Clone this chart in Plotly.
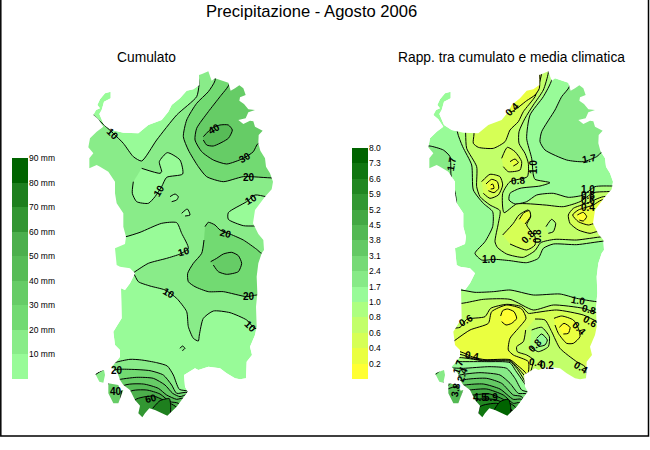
"""
Precipitazione - Agosto 2006: isoline maps of Sardinia, cumulated rain and ratio to climate.
Isolines are read off the picture, in a local map frame (x 0-660, y 0-1110 downwards).
"""
import plotly.graph_objects as go

W, H = 650, 450
FONT = "Liberation Sans"

# Band colours, low to high
CUM_COLORS = ["#98FB98", "#89EC89", "#72DA72", "#66CC66", "#57BC57", "#4CAF4C", "#329632", "#1E7F1E", "#006400"]
RATIO_COLORS = ["#FFFF33", "#EAFF40", "#D6FF55", "#C2FF6A", "#ADFF80",
                "#98FB98", "#87EA87", "#76DA76", "#64C964", "#53B953",
                "#43A843", "#329832", "#218721", "#107610", "#006400"]

CUM_TICKS = ["10 mm", "20 mm", "30 mm", "40 mm", "50 mm", "60 mm", "70 mm", "80 mm", "90 mm"]
RATIO_TICKS = ["0.2", "0.4", "0.6", "0.8", "1.0", "1.7", "2.4", "3.1", "3.8", "4.5", "5.2", "5.9", "6.6", "7.3", "8.0"]

# Coast outline
COAST_MAIN = [(357, 45), (366, 42), (385, 34), (390, 48), (395, 62), (405, 55), (420, 60), (445, 68), (452, 92),
              (465, 85), (478, 76), (490, 85), (497, 105), (480, 112), (478, 122), (492, 132), (505, 148), (525, 150),
              (505, 157), (497, 175), (475, 180), (490, 192), (510, 182), (520, 184), (525, 200), (548, 212), (536, 225),
              (535, 250), (541, 272), (555, 295), (558, 320), (570, 340), (579, 365), (575, 388), (555, 410), (540, 430),
              (525, 450), (519, 490), (535, 522), (550, 540), (552, 570), (545, 580), (535, 610), (530, 650), (532, 700),
              (528, 740), (530, 800), (525, 825), (510, 860), (516, 885), (500, 905), (498, 955), (480, 958), (465, 955),
              (440, 940), (420, 925), (385, 920), (355, 930), (345, 925), (312, 945), (315, 980), (323, 995), (305, 1020),
              (290, 1040), (262, 1067), (225, 1050), (208, 1045), (195, 1060), (187, 1072), (175, 1060), (180, 1037),
              (165, 1020), (150, 990), (130, 975), (120, 960), (113, 940), (95, 920), (105, 910), (120, 890), (120, 870),
              (105, 855), (100, 815), (125, 775), (123, 685), (135, 690), (150, 670), (165, 640), (150, 625), (120, 620),
              (110, 615), (105, 565), (135, 552), (138, 530), (130, 500), (130, 460), (110, 430), (105, 400), (105, 365),
              (85, 335), (60, 320), (50, 315), (28, 325), (28, 295), (40, 280), (25, 262), (30, 235), (50, 215), (70, 200),
              (55, 178), (40, 165), (48, 150), (60, 145), (52, 135), (60, 118), (75, 100), (92, 95), (92, 115), (72, 125),
              (65, 150), (58, 162), (72, 195), (95, 210), (130, 218), (175, 220), (205, 195), (245, 180), (265, 155),
              (275, 135), (300, 115), (320, 92), (340, 88), (358, 75)]
COAST_SAN_PIETRO = [(45, 940), (72, 930), (75, 945), (70, 968), (58, 965)]
COAST_SANT_ANTIOCO = [(85, 970), (115, 975), (122, 992), (130, 990), (115, 1030), (100, 1030), (85, 1000)]

# Cumulato: (band index, isoline), painted in this order
CUM_10_MAIN = [(30, 150), (40, 165), (100, 220), (130, 250), (160, 290), (185, 303), (230, 240), (290, 165), (350, 110),
               (357, 75), (357, 0), (660, 0), (660, 805), (525, 805), (500, 780), (450, 758), (400, 753), (370, 775),
               (358, 825), (355, 843), (340, 835), (325, 800), (320, 755), (290, 715), (255, 690), (210, 678), (175, 665),
               (160, 640), (120, 620), (0, 620), (0, 150)]
CUM_LOW_WEST = [(100, 535), (138, 530), (180, 517), (245, 490), (290, 488), (305, 520), (325, 565), (300, 582), (260, 595),
                (205, 610), (165, 635), (158, 640), (100, 640)]
CUM_LOW_EAST = [(660, 410), (560, 410), (525, 405), (500, 425), (445, 458), (445, 478), (490, 497), (520, 498), (660, 498)]
CUM_LOW_CENTRE = [(185, 325), (240, 340), (245, 335), (238, 305), (262, 278), (300, 300), (308, 342), (260, 352), (245, 380),
                  (225, 410), (205, 430), (170, 425), (157, 400), (160, 365)]
CUM_LOW_DOT1 = [(270, 410), (285, 402), (295, 410), (290, 420), (275, 425)]
CUM_LOW_DOT2 = [(305, 460), (322, 447), (330, 465), (315, 468)]
CUM_DOT_SOUTH = [(300, 865), (307, 858), (315, 865), (307, 872)]
CUM_20_NE = [(405, 0), (405, 62), (385, 95), (350, 130), (320, 180), (310, 230), (325, 270), (355, 320), (380, 350), (430, 365),
             (490, 350), (660, 345), (660, 0)]
CUM_30_NE = [(448, 0), (448, 72), (420, 110), (385, 155), (350, 205), (345, 240), (365, 275), (400, 300), (440, 312),
             (490, 295), (520, 275), (535, 250), (660, 250), (660, 0)]
CUM_40_NE = [(370, 230), (395, 205), (420, 195), (445, 195), (457, 210), (445, 235), (400, 258), (380, 255), (370, 240)]
CUM_20_MID = [(375, 500), (385, 487), (405, 495), (420, 510), (445, 520), (490, 540), (530, 568), (545, 580), (660, 580),
              (660, 705), (530, 705), (500, 710), (430, 695), (385, 695), (345, 680), (325, 665), (323, 640), (340, 610),
              (365, 580), (372, 540)]
CUM_30_MID = [(392, 605), (410, 595), (430, 582), (455, 577), (475, 587), (485, 610), (475, 635), (440, 643), (415, 635),
              (400, 615)]
CUM_10_SOUTH = [(0, 1000), (45, 945), (72, 928), (105, 908), (150, 898), (185, 900), (230, 908), (262, 918), (280, 945),
                (298, 988), (325, 995), (340, 1110), (0, 1110)]
CUM_20_SOUTH = [(70, 1110), (85, 960), (105, 930), (150, 928), (210, 932), (250, 945), (275, 975), (290, 1000), (322, 998),
                (340, 1110)]
CUM_30_SOUTH = [(70, 1110), (85, 970), (110, 960), (170, 952), (220, 955), (255, 975), (278, 1000), (300, 1010), (320, 1005),
                (340, 1110)]
CUM_40_SOUTH = [(120, 1110), (130, 978), (190, 972), (235, 985), (260, 1005), (290, 1018), (310, 1015), (340, 1110)]
CUM_50_SOUTH = [(140, 1110), (150, 995), (200, 990), (240, 1002), (270, 1025), (295, 1030), (340, 1110)]
CUM_60_SOUTH = [(160, 1110), (165, 1020), (220, 1008), (250, 1020), (280, 1035), (290, 1042), (340, 1110)]
CUM_70_SOUTH = [(218, 1045), (240, 1022), (268, 1016), (272, 1040), (268, 1075), (225, 1075)]

CUM_BANDS = [1, 0, 0, 0, 0, 0, 1, 2, 3, 4, 2, 3, 1, 2, 3, 4, 5, 6, 7]
CUM_LINES = [CUM_10_MAIN, CUM_LOW_WEST, CUM_LOW_EAST, CUM_LOW_CENTRE, CUM_LOW_DOT1, CUM_LOW_DOT2, CUM_DOT_SOUTH,
             CUM_20_NE, CUM_30_NE, CUM_40_NE, CUM_20_MID, CUM_30_MID, CUM_10_SOUTH, CUM_20_SOUTH, CUM_30_SOUTH,
             CUM_40_SOUTH, CUM_50_SOUTH, CUM_60_SOUTH, CUM_70_SOUTH]

CUM_LABEL_TEXT = ["10", "30", "40", "20", "10", "10", "20", "10", "10", "20", "10", "20", "40", "60"]
CUM_LABEL_X = [100, 495, 403, 507, 512, 237, 437, 313, 268, 508, 512, 110, 108, 212]
CUM_LABEL_Y = [222, 293, 205, 352, 418, 392, 520, 575, 700, 710, 798, 930, 995, 1015]
CUM_LABEL_ANGLE = [45, -30, -30, 0, -30, -60, 15, -15, 30, 0, 45, 0, 0, -15]

# Rapporto: (band index, isoline), painted in this order
RAT_17_NE = [(448, 0), (448, 80), (425, 110), (405, 150), (365, 215), (360, 245), (375, 270), (440, 300), (490, 305),
             (530, 290), (548, 275), (660, 275), (660, 0)]
RAT_17_W = [(0, 258), (30, 258), (70, 270), (90, 290), (93, 345), (107, 430), (0, 430)]
RAT_10_N = [(112, 0), (112, 215), (128, 260), (155, 315), (160, 390), (190, 430), (218, 455), (218, 500), (195, 545),
            (165, 580), (185, 600), (225, 598), (270, 602), (320, 608), (355, 595), (370, 565), (400, 552), (470, 554),
            (555, 543), (660, 543), (660, 378), (580, 378), (525, 380), (490, 405), (445, 412), (400, 400), (350, 405),
            (320, 425), (285, 432), (267, 420), (270, 400), (300, 385), (360, 378), (390, 368), (345, 358), (340, 345),
            (335, 295), (320, 235), (330, 165), (370, 110), (395, 60), (395, 0)]
RAT_08_N = [(137, 0), (137, 222), (140, 265), (170, 320), (170, 380), (180, 410), (210, 435), (240, 452), (235, 490),
            (225, 545), (232, 562), (260, 582), (310, 592), (345, 572), (362, 548), (405, 538), (470, 540), (550, 530),
            (660, 530), (660, 395), (560, 395), (520, 398), (480, 425), (430, 440), (375, 435), (290, 432), (252, 458),
            (248, 400), (270, 365), (322, 350), (325, 310), (315, 280), (297, 250), (297, 215), (315, 175), (340, 135),
            (370, 90), (385, 38), (385, 0)]
RAT_06_N = [(162, 0), (162, 222), (160, 250), (175, 262), (220, 265), (255, 245), (270, 210), (295, 185), (310, 155),
            (345, 110), (355, 80), (365, 40), (365, 0)]
RAT_04_N = [(272, 0), (272, 155), (320, 122), (345, 105), (358, 85), (358, 0)]
RAT_06_A = [(185, 365), (210, 343), (240, 350), (248, 375), (235, 405), (210, 415), (190, 400)]
RAT_04_A = [(198, 372), (215, 358), (232, 365), (236, 385), (222, 398), (205, 392)]
RAT_02_A = [(212, 375), (218, 372), (222, 385), (212, 387)]
RAT_06_B = [(245, 295), (262, 262), (285, 275), (305, 305), (300, 330), (265, 335), (250, 320)]
RAT_04_B = [(270, 305), (285, 297), (295, 308), (280, 318)]
RAT_06_C = [(248, 525), (280, 490), (297, 465), (325, 450), (332, 470), (320, 495), (345, 530), (345, 555), (320, 570),
            (270, 552)]
RAT_04_C = [(298, 478), (312, 458), (328, 452), (332, 468), (315, 492)]
RAT_10_LOOP = [(378, 500), (395, 478), (407, 490), (400, 515), (385, 520)]
RAT_06_E = [(660, 410), (550, 410), (500, 430), (460, 445), (445, 465), (450, 490), (475, 510), (510, 520), (530, 515),
            (660, 515)]
RAT_04_E = [(660, 420), (545, 420), (520, 435), (475, 450), (458, 465), (475, 485), (505, 495), (525, 490), (660, 490)]
RAT_02_E = [(472, 465), (490, 457), (500, 470), (490, 483), (478, 480)]
RAT_10_S = [(0, 690), (122, 690), (165, 697), (220, 695), (270, 690), (340, 705), (420, 702), (470, 715), (530, 725),
            (660, 725), (660, 1110), (0, 1110)]
RAT_08_S = [(0, 730), (125, 730), (190, 718), (270, 718), (340, 750), (400, 735), (490, 745), (530, 758), (660, 758),
            (660, 1110), (0, 1110)]
RAT_06_S = [(0, 800), (120, 802), (140, 778), (195, 770), (212, 745), (260, 733), (305, 740), (325, 760), (345, 758),
            (410, 750), (490, 765), (535, 785), (660, 785), (660, 1110), (0, 1110)]
RAT_04_W = [(90, 852), (150, 810), (205, 790), (215, 755), (260, 735), (305, 747), (318, 775), (295, 805), (270, 835),
            (265, 870), (280, 885), (325, 905), (320, 950), (190, 950), (90, 900)]
RAT_02_W = [(242, 768), (248, 752), (262, 747), (282, 755), (290, 775), (275, 790), (258, 795), (245, 785)]
RAT_04_EE = [(402, 775), (425, 768), (460, 780), (475, 805), (480, 830), (460, 850), (440, 850), (415, 820), (405, 795)]
RAT_02_EE = [(418, 802), (432, 790), (450, 802), (445, 820), (430, 822)]
RAT_08_MID = [(345, 777), (375, 780), (395, 815), (420, 865), (470, 905), (495, 920), (500, 960), (330, 960), (340, 900),
              (320, 885), (292, 875), (290, 860), (310, 845), (317, 810)]
RAT_10_RING = [(335, 810), (365, 802), (388, 830), (385, 860), (355, 875), (330, 860)]
RAT_17_RING = [(350, 835), (365, 822), (382, 840), (375, 855), (355, 860)]
RAT_S_06 = [(0, 875), (120, 875), (160, 892), (195, 899), (270, 899), (292, 916), (322, 945), (340, 1110), (0, 1110)]
RAT_S_08 = [(0, 883), (120, 883), (160, 896), (195, 901), (270, 901), (290, 920), (318, 955), (340, 1110), (0, 1110)]
RAT_S_10 = [(0, 893), (125, 893), (195, 903), (270, 904), (290, 925), (316, 968), (340, 1110), (0, 1110)]
RAT_S_17 = [(0, 905), (120, 905), (200, 905), (270, 908), (287, 932), (310, 965), (322, 985), (340, 1110), (0, 1110)]
RAT_S_24 = [(0, 1000), (45, 945), (72, 925), (130, 925), (210, 920), (260, 925), (285, 955), (305, 990), (325, 998),
            (340, 1110), (0, 1110)]
RAT_S_31 = [(60, 1110), (72, 965), (120, 945), (180, 938), (240, 945), (270, 970), (295, 1000), (320, 1002), (340, 1110)]
RAT_S_38 = [(70, 1110), (85, 975), (140, 958), (200, 955), (245, 970), (280, 1005), (305, 1010), (340, 1110)]
RAT_S_45 = [(70, 1110), (80, 990), (135, 975), (190, 972), (240, 987), (280, 1018), (305, 1018), (340, 1110)]
RAT_S_52 = [(120, 1110), (130, 995), (150, 990), (200, 987), (250, 1005), (280, 1030), (300, 1028), (340, 1110)]
RAT_S_59 = [(140, 1110), (150, 1010), (160, 1005), (210, 1002), (250, 1018), (285, 1040), (340, 1110)]
RAT_S_66 = [(160, 1110), (170, 1020), (220, 1018), (255, 1030), (275, 1050), (340, 1110)]
RAT_S_73 = [(170, 1110), (180, 1040), (230, 1030), (262, 1042), (340, 1110)]
RAT_S_80 = [(222, 1050), (240, 1025), (265, 1018), (272, 1040), (268, 1075), (225, 1075)]

RAT_BANDS = [6, 6, 4, 3, 2, 1, 2, 1, 0, 2, 1, 2, 1, 4, 2, 1, 0,
             4, 3, 2, 1, 0, 1, 0, 3, 4, 5,
             2, 3, 4, 5, 6, 7, 8, 9, 10, 11, 12, 13, 14]
RAT_LINES = [RAT_17_NE, RAT_17_W, RAT_10_N, RAT_08_N, RAT_06_N, RAT_04_N, RAT_06_A, RAT_04_A, RAT_02_A, RAT_06_B, RAT_04_B,
             RAT_06_C, RAT_04_C, RAT_10_LOOP, RAT_06_E, RAT_04_E, RAT_02_E,
             RAT_10_S, RAT_08_S, RAT_06_S, RAT_04_W, RAT_02_W, RAT_04_EE, RAT_02_EE, RAT_08_MID, RAT_10_RING, RAT_17_RING,
             RAT_S_06, RAT_S_08, RAT_S_10, RAT_S_17, RAT_S_24, RAT_S_31, RAT_S_38, RAT_S_45, RAT_S_52, RAT_S_59, RAT_S_66,
             RAT_S_73, RAT_S_80]

RAT_LABEL_TEXT = ["1.7", "1.7", "0.8", "1.0", "1.0", "0.8", "0.6", "0.4", "0.8", "0.8", "1.0", "0.4", "1.0", "0.8", "0.6",
                  "0.4", "0.6", "0.4", "0.4", "0.2", "0.4", "1.7", "2.4", "3.8", "4.5", "5.9", "0.8"]
RAT_LABEL_X = [93, 507, 295, 340, 505, 505, 505, 505, 325, 353, 207, 275, 475, 507, 510, 478, 137, 155, 348, 380, 483, 115,
               125, 105, 180, 213, 345]
RAT_LABEL_Y = [312, 295, 362, 320, 388, 405, 422, 442, 530, 530, 598, 148, 720, 748, 785, 805, 782, 885, 908, 915, 922, 920,
               945, 990, 1012, 1012, 857]
RAT_LABEL_ANGLE = [-80, -10, -5, -90, 0, 0, 0, 0, -45, -90, 0, -45, 10, 15, 30, 45, -30, 10, 10, 0, 30, -70, -70, -80, 0, 0, -45]


def xs(points):
    return [p[0] for p in points]


def ys(points):
    return [p[1] for p in points]


def add_map(fig, bands, lines, colors, axis_x, axis_y):
    # island in the lowest band the map has at its base
    fig.add_trace(go.Scatter(x=xs(COAST_MAIN), y=ys(COAST_MAIN), fill="toself", mode="lines",
                             fillcolor=colors[0] if axis_x == "x" else colors[5], line=dict(width=0),
                             hoverinfo="skip", xaxis=axis_x, yaxis=axis_y))
    for band, line in zip(bands, lines):
        fig.add_trace(go.Scatter(x=xs(line), y=ys(line), fill="toself", mode="lines", fillcolor=colors[band],
                                 line=dict(color="black", width=1, shape="spline", smoothing=0.6),
                                 hoverinfo="skip", xaxis=axis_x, yaxis=axis_y))
    # white sea on top, with the coast cut out of it; the frame runs past the axes
    mask_x = [-100, 760, 760, -100, -100]
    mask_y = [-100, -100, 1210, 1210, -100]
    for coast in (COAST_MAIN, COAST_SAN_PIETRO, COAST_SANT_ANTIOCO):
        back = coast[::-1]
        mask_x += [None] + xs(back) + [back[0][0]]
        mask_y += [None] + ys(back) + [back[0][1]]
    fig.add_trace(go.Scatter(x=mask_x, y=mask_y, fill="toself", mode="lines", fillcolor="white", line=dict(width=0),
                             hoverinfo="skip", xaxis=axis_x, yaxis=axis_y))


def add_legend(fig, ticks, colors, axis_x, axis_y):
    n = len(ticks)
    scale = []
    for i, c in enumerate(colors):
        scale += [[i / n, c], [(i + 1) / n, c]]
    fig.add_trace(go.Heatmap(x=[0], y=list(range(n)), z=[[i] for i in range(n)], zmin=-0.5, zmax=n - 0.5,
                             colorscale=scale, showscale=False, hoverinfo="skip", xaxis=axis_x, yaxis=axis_y))


def map_labels(texts, xvals, yvals, angles, axis_x, axis_y):
    out = []
    for t, x, y, a in zip(texts, xvals, yvals, angles):
        out.append(dict(text=t, x=x, y=y, xref=axis_x, yref=axis_y, showarrow=False, textangle=a,
                        font=dict(family=FONT, size=10, color="black", weight="bold")))
    return out


fig = go.Figure()
add_map(fig, CUM_BANDS, CUM_LINES, CUM_COLORS, "x", "y")
add_map(fig, RAT_BANDS, RAT_LINES, RATIO_COLORS, "x2", "y2")
add_legend(fig, CUM_TICKS, CUM_COLORS, "x3", "y3")
add_legend(fig, RATIO_TICKS, RATIO_COLORS, "x4", "y4")

hidden = dict(visible=False, fixedrange=True)
y_map = dict(hidden, domain=[1 - 434 / H, 1 - 56 / H], range=[1122, -12])
tick_axis = dict(side="right", showgrid=False, zeroline=False, showline=False, ticks="", automargin=False,
                 tickfont=dict(family=FONT, size=8.5, color="black"), fixedrange=True)

annotations = map_labels(CUM_LABEL_TEXT, CUM_LABEL_X, CUM_LABEL_Y, CUM_LABEL_ANGLE, "x", "y")
annotations += map_labels(RAT_LABEL_TEXT, RAT_LABEL_X, RAT_LABEL_Y, RAT_LABEL_ANGLE, "x2", "y2")
annotations += [
    dict(text="Precipitazione - Agosto 2006", x=311 / W, y=1 - 11 / H, xref="paper", yref="paper", showarrow=False,
         xanchor="center", yanchor="middle", font=dict(family=FONT, size=16.6, color="black")),
    dict(text="Cumulato", x=146 / W, y=1 - 57 / H, xref="paper", yref="paper", showarrow=False,
         xanchor="center", yanchor="middle", font=dict(family=FONT, size=13.8, color="black")),
    dict(text="Rapp. tra cumulato e media climatica", x=511 / W, y=1 - 57 / H, xref="paper", yref="paper", showarrow=False,
         xanchor="center", yanchor="middle", font=dict(family=FONT, size=13.8, color="black")),
]

fig.update_layout(
    template="none",
    width=W, height=H, margin=dict(l=0, r=0, t=0, b=0, pad=0), showlegend=False,
    paper_bgcolor="white", plot_bgcolor="white",
    xaxis=dict(hidden, domain=[76 / W, 304 / W], range=[-12, 672]),
    yaxis=y_map,
    xaxis2=dict(hidden, domain=[416 / W, 644 / W], range=[-12, 672]),
    yaxis2=dict(y_map, anchor="x2"),
    xaxis3=dict(hidden, domain=[12 / W, 28 / W]),
    yaxis3=dict(tick_axis, anchor="x3", domain=[1 - 379 / H, 1 - 158 / H], range=[-0.5, len(CUM_TICKS) - 0.5],
                tickvals=[i + 0.5 for i in range(len(CUM_TICKS))], ticktext=CUM_TICKS),
    xaxis4=dict(hidden, domain=[352 / W, 368 / W]),
    yaxis4=dict(tick_axis, anchor="x4", domain=[1 - 379 / H, 1 - 148 / H], range=[-0.5, len(RATIO_TICKS) - 0.5],
                tickvals=[i + 0.5 for i in range(len(RATIO_TICKS))], ticktext=RATIO_TICKS),
    annotations=annotations,
    shapes=[dict(type="rect", xref="paper", yref="paper", x0=0.8 / W, x1=648.5 / W, y0=1 - 436 / H, y1=1 + 2 / H,
                 line=dict(color="black", width=1.5))],
)

# the photographed page has no room for the default body margin
fig.write_html("out.html", config={"displayModeBar": False}, post_script="document.body.style.margin='0';")
